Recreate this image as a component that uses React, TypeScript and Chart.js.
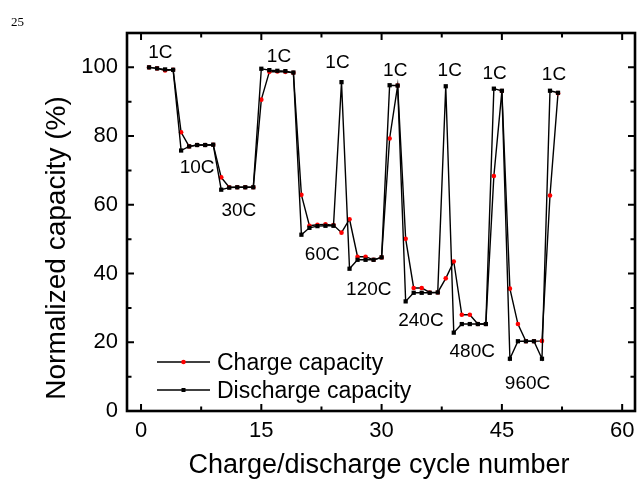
import React, { useEffect, useRef } from "react";
import { Chart, registerables } from "chart.js";

Chart.register(...registerables);

const cycles = [
  1, 2, 3, 4, 5, 6, 7, 8, 9, 10, 11, 12, 13, 14, 15, 16, 17, 18, 19, 20, 21, 22, 23, 24, 25, 26,
  27, 28, 29, 30, 31, 32, 33, 34, 35, 36, 37, 38, 39, 40, 41, 42, 43, 44, 45, 46, 47, 48, 49, 50, 51, 52,
];

const chargeCapacity = [
  100.0, 99.7, 99.1, 99.3, 81.1, 77.0, 77.4, 77.4, 77.5, 68.0, 65.1, 65.1, 65.1, 65.1, 90.6, 98.7, 98.8,
  98.7, 98.4, 62.9, 53.9, 54.2, 54.3, 54.1, 51.9, 55.8, 44.9, 44.9, 44.0, 44.7, 79.3, 94.7, 50.1, 35.8,
  35.8, 34.5, 34.5, 38.6, 43.5, 28.0, 28.0, 25.3, 25.3, 68.4, 93.1, 35.6, 25.3, 20.3, 20.3, 20.4, 62.7, 92.5,
];

const dischargeCapacity = [
  100.0, 99.7, 99.4, 99.3, 75.8, 77.0, 77.4, 77.4, 77.5, 64.4, 65.0, 65.1, 65.1, 65.1, 99.6, 99.2, 99.0,
  98.9, 98.5, 51.3, 53.3, 53.8, 53.9, 53.9, 95.7, 41.4, 44.0, 44.0, 44.0, 44.7, 94.8, 94.7, 31.9, 34.4,
  34.4, 34.4, 34.5, 94.5, 22.8, 25.3, 25.3, 25.3, 25.3, 93.8, 93.2, 15.2, 20.3, 20.3, 20.3, 15.2, 93.2, 92.6,
];

const xTicksMajor = [0, 15, 30, 45, 60];
const xTicksMinor = [7.5, 22.5, 37.5, 52.5];
const yTicksMajor = [0, 20, 40, 60, 80, 100];
const yTicksMinor = [10, 30, 50, 70, 90];

const rateLabels = ["1C", "10C", "30C", "1C", "1C", "60C", "1C", "120C", "1C", "240C", "480C", "1C", "960C", "1C"];
const rateLabelX = [2.4, 7.0, 12.2, 17.2, 24.5, 22.6, 31.7, 28.4, 38.5, 34.9, 41.3, 44.1, 48.2, 51.5];
const rateLabelY = [104.8, 71.2, 58.8, 103.6, 101.7, 46.0, 99.6, 35.8, 99.6, 26.7, 17.8, 98.7, 8.5, 98.3];

const SANS = '"Liberation Sans", Arial, Helvetica, sans-serif';

const overlayPlugin = {
  id: "overlay",
  afterDatasetsDraw(chart: any) {
    const ctx = chart.ctx as CanvasRenderingContext2D;
    const { left, right, top, bottom } = chart.chartArea;
    const xs = chart.scales.x;
    const ys = chart.scales.y;
    ctx.save();
    // frame
    ctx.strokeStyle = "#000";
    ctx.lineWidth = 2.6;
    ctx.strokeRect(left, top, right - left, bottom - top);
    // ticks
    ctx.lineWidth = 2;
    const drawX = (v: number, len: number) => {
      const px = xs.getPixelForValue(v);
      ctx.beginPath();
      ctx.moveTo(px, bottom);
      ctx.lineTo(px, bottom - len);
      ctx.moveTo(px, top);
      ctx.lineTo(px, top + len);
      ctx.stroke();
    };
    const drawY = (v: number, len: number) => {
      const py = ys.getPixelForValue(v);
      ctx.beginPath();
      ctx.moveTo(left, py);
      ctx.lineTo(left + len, py);
      ctx.moveTo(right, py);
      ctx.lineTo(right - len, py);
      ctx.stroke();
    };
    xTicksMajor.forEach((v) => drawX(v, 7));
    xTicksMinor.forEach((v) => drawX(v, 4.5));
    yTicksMajor.forEach((v) => drawY(v, 7));
    yTicksMinor.forEach((v) => drawY(v, 4.5));

    // rate annotations
    ctx.fillStyle = "#000";
    ctx.font = `19px ${SANS}`;
    ctx.textAlign = "center";
    ctx.textBaseline = "alphabetic";
    rateLabels.forEach((t, i) => {
      const px = xs.getPixelForValue(rateLabelX[i]);
      const py = ys.getPixelForValue(rateLabelY[i]);
      ctx.fillText(t, px, py + 6.8);
    });

    // legend
    const items = [chart.data.datasets[1], chart.data.datasets[0]];
    ctx.font = `23px ${SANS}`;
    ctx.textAlign = "left";
    items.forEach((ds: any, i: number) => {
      const y = bottom - 49 + i * 28;
      const x0 = left + 30;
      const x1 = left + 83;
      ctx.strokeStyle = "#000";
      ctx.lineWidth = 1.3;
      ctx.beginPath();
      ctx.moveTo(x0, y);
      ctx.lineTo(x1, y);
      ctx.stroke();
      const cx = (x0 + x1) / 2;
      ctx.fillStyle = ds.pointBackgroundColor;
      if (ds.pointStyle === "rect") {
        ctx.fillRect(cx - 2, y - 2, 4, 4);
      } else {
        ctx.beginPath();
        ctx.arc(cx, y, 2.3, 0, Math.PI * 2);
        ctx.fill();
      }
      ctx.fillStyle = "#000";
      ctx.fillText(ds.label, left + 90, y + 8.2);
    });

    // axis titles
    ctx.font = `27px ${SANS}`;
    ctx.textAlign = "center";
    ctx.fillText("Charge/discharge cycle number", (left + right) / 2 - 2, bottom + 62);
    ctx.font = `28px ${SANS}`;
    ctx.save();
    ctx.translate(left - 62, (top + bottom) / 2 + 26);
    ctx.rotate(-Math.PI / 2);
    ctx.fillText("Normalized capacity (%)", 0, 0);
    ctx.restore();

    // page number
    ctx.font = '13px "Liberation Serif", "Times New Roman", serif';
    ctx.textAlign = "left";
    ctx.fillText("25", 11, 26);
    ctx.restore();
  },
};

export default function App() {
  const ref = useRef<HTMLCanvasElement | null>(null);
  useEffect(() => {
    if (!ref.current) return;
    const chart = new Chart(ref.current, {
      type: "scatter",
      data: {
        datasets: [
          {
            label: "Discharge capacity",
            data: cycles.map((c, i) => ({ x: c, y: dischargeCapacity[i] })),
            showLine: true,
            borderColor: "#000",
            borderWidth: 1.4,
            pointStyle: "rect",
            pointRadius: 3,
            pointBackgroundColor: "#000",
            pointBorderColor: "#000",
            pointBorderWidth: 0,
          },
          {
            label: "Charge capacity",
            data: cycles.map((c, i) => ({ x: c, y: chargeCapacity[i] })),
            showLine: true,
            borderColor: "#000",
            borderWidth: 1.4,
            pointStyle: "circle",
            pointRadius: 2.3,
            pointBackgroundColor: "#ff0000",
            pointBorderColor: "#ff0000",
            pointBorderWidth: 0,
          },
        ],
      },
      options: {
        animation: false,
        responsive: false,
        events: [],
        layout: { padding: { left: 0, top: 33, right: 3, bottom: 0 } },
        plugins: { legend: { display: false }, tooltip: { enabled: false } },
        scales: {
          x: {
            type: "linear",
            min: -1.75,
            max: 61.6,
            grid: { display: false, drawTicks: false },
            border: { display: false },
            afterBuildTicks: (s: any) => {
              s.ticks = xTicksMajor.map((v) => ({ value: v }));
            },
            afterFit: (s: any) => {
              s.height = 72;
              s.paddingLeft = 0;
              s.paddingRight = 0;
            },
            ticks: {
              color: "#000",
              padding: 7,
              maxRotation: 0,
              autoSkip: false,
              font: { family: SANS, size: 22 },
            },
          },
          y: {
            type: "linear",
            min: 0,
            max: 110,
            grid: { display: false, drawTicks: false },
            border: { display: false },
            afterBuildTicks: (s: any) => {
              s.ticks = yTicksMajor.map((v) => ({ value: v }));
            },
            afterFit: (s: any) => {
              s.width = 127;
              s.paddingTop = 0;
              s.paddingBottom = 0;
            },
            ticks: {
              color: "#000",
              padding: 9,
              autoSkip: false,
              font: { family: SANS, size: 22 },
            },
          },
        },
      },
      plugins: [overlayPlugin],
    } as any);
    return () => chart.destroy();
  }, []);
  return (
    <div style={{ position: "fixed", left: 0, top: 0, width: 639, height: 483, background: "#fff" }}>
      <canvas ref={ref} width={639} height={483} />
    </div>
  );
}
